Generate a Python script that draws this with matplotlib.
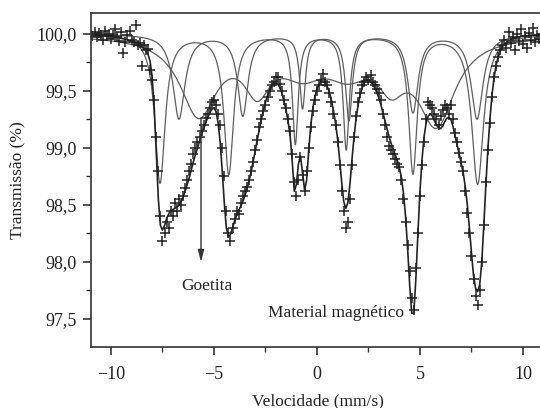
import numpy as np
import matplotlib.pyplot as plt
from matplotlib.ticker import MultipleLocator, FuncFormatter

# measured spectrum, one value per channel (0.1 mm/s steps from -10.9 to 10.8)
vel_min, vel_max = -10.9, 10.8
transmission = [
    99.98, 100.02, 99.97, 100.01, 99.99, 99.95, 100.03, 99.98, 100.00, 99.96,
    99.99, 100.04, 99.97, 99.94, 100.02, 99.83, 99.93, 99.99, 100.03, 99.95,
    99.93, 100.08, 99.90, 99.92, 99.72, 99.90, 99.86, 99.87, 99.68, 99.60,
    99.42, 99.10, 98.80, 98.40, 98.18, 98.25, 98.35, 98.30, 98.45, 98.40,
    98.52, 98.45, 98.55, 98.50, 98.58, 98.65, 98.72, 98.80, 98.86, 98.95,
    99.00, 99.05, 99.10, 99.15, 99.20, 99.26, 99.30, 99.35, 99.40, 99.42,
    99.38, 99.30, 99.20, 99.00, 98.75, 98.45, 98.25, 98.18, 98.30, 98.38,
    98.45, 98.42, 98.52, 98.58, 98.62, 98.66, 98.72, 98.80, 98.88, 98.98,
    99.07, 99.18, 99.25, 99.32, 99.38, 99.45, 99.50, 99.55, 99.58, 99.62,
    99.62, 99.56, 99.50, 99.42, 99.35, 99.25, 99.15, 98.95, 98.70, 98.58,
    98.72, 98.92, 98.76, 98.62, 98.80, 99.00, 99.18, 99.32, 99.42, 99.50,
    99.55, 99.60, 99.65, 99.58, 99.55, 99.48, 99.40, 99.30, 99.20, 99.05,
    98.85, 98.62, 98.45, 98.30, 98.35, 98.55, 98.85, 99.10, 99.28, 99.40,
    99.48, 99.55, 99.58, 99.62, 99.60, 99.64, 99.58, 99.55, 99.52, 99.48,
    99.42, 99.30, 99.20, 99.10, 99.02, 98.98, 98.95, 98.90, 98.86, 98.83,
    98.72, 98.55, 98.35, 98.15, 97.92, 97.68, 97.58, 97.95, 98.25, 98.58,
    98.85, 99.05, 99.25, 99.40, 99.38, 99.35, 99.30, 99.25, 99.20, 99.28,
    99.33, 99.38, 99.35, 99.30, 99.38, 99.25, 99.13, 99.05, 98.96, 98.88,
    98.80, 98.62, 98.43, 98.25, 98.05, 97.85, 97.70, 97.62, 97.75, 98.00,
    98.32, 98.70, 98.98, 99.22, 99.45, 99.62, 99.72, 99.80, 99.86, 99.90,
    99.95, 99.88, 100.02, 99.92, 99.97, 99.86, 100.00, 99.94, 100.04, 99.91,
    99.98, 99.88, 100.01, 99.95, 100.05, 99.93, 99.99, 99.96,
]

# total fitted curve on the same channels
fit_total = [
    100.00, 100.00, 100.00, 99.99, 99.99, 99.99, 99.99, 99.98, 99.98, 99.98,
    99.98, 99.97, 99.97, 99.97, 99.96, 99.96, 99.95, 99.95, 99.94, 99.94,
    99.93, 99.92, 99.91, 99.90, 99.89, 99.87, 99.85, 99.82, 99.76, 99.62,
    99.35, 98.95, 98.55, 98.32, 98.28, 98.32, 98.38, 98.42, 98.45, 98.46,
    98.47, 98.48, 98.50, 98.53, 98.57, 98.62, 98.68, 98.74, 98.81, 98.88,
    98.94, 99.00, 99.06, 99.12, 99.17, 99.22, 99.27, 99.31, 99.34, 99.35,
    99.32, 99.22, 99.05, 98.80, 98.52, 98.30, 98.22, 98.24, 98.30, 98.36,
    98.41, 98.45, 98.49, 98.53, 98.58, 98.64, 98.71, 98.79, 98.88, 98.97,
    99.07, 99.16, 99.25, 99.33, 99.40, 99.46, 99.51, 99.54, 99.56, 99.57,
    99.56, 99.53, 99.48, 99.41, 99.33, 99.23, 99.10, 98.88, 98.62, 98.68,
    98.86, 98.93, 98.78, 98.63, 98.72, 98.98, 99.20, 99.35, 99.45, 99.52,
    99.56, 99.58, 99.58, 99.57, 99.54, 99.49, 99.42, 99.33, 99.22, 99.08,
    98.90, 98.70, 98.53, 98.47, 98.52, 98.68, 98.90, 99.10, 99.26, 99.38,
    99.47, 99.53, 99.57, 99.59, 99.59, 99.58, 99.56, 99.53, 99.49, 99.44,
    99.38, 99.31, 99.24, 99.17, 99.10, 99.04, 98.99, 98.94, 98.89, 98.83,
    98.74, 98.60, 98.40, 98.12, 97.80, 97.55, 97.55, 97.85, 98.25, 98.62,
    98.90, 99.10, 99.22, 99.28, 99.30, 99.28, 99.24, 99.20, 99.18, 99.17,
    99.19, 99.23, 99.26, 99.27, 99.25, 99.19, 99.11, 99.03, 98.95, 98.87,
    98.78, 98.66, 98.50, 98.30, 98.08, 97.88, 97.77, 97.74, 97.80, 98.00,
    98.32, 98.68, 99.00, 99.26, 99.47, 99.62, 99.73, 99.80, 99.85, 99.89,
    99.91, 99.93, 99.94, 99.95, 99.96, 99.96, 99.97, 99.97, 99.98, 99.98,
    99.98, 99.98, 99.99, 99.99, 99.99, 99.99, 100.00, 100.00,
]
velocity = np.linspace(vel_min, vel_max, len(transmission))

# fitted subspectra: line positions (mm/s), depths (%), half widths (mm/s)
mag_pos = [-7.62, -4.28, -1.05, 1.42, 4.66, 7.80]
mag_depth = [1.30, 1.22, 0.95, 1.00, 1.21, 1.31]
mag_hwhm = [0.30, 0.28, 0.17, 0.18, 0.25, 0.35]

sx2_pos = [-6.70, -3.60, -0.70, 1.55, 4.66, 7.77]
sx2_depth = [0.74, 0.71, 0.64, 0.75, 0.68, 0.74]
sx2_hwhm = [0.35, 0.30, 0.17, 0.20, 0.30, 0.35]

goe_pos = [-5.75, -2.90, -0.70, 1.50, 3.60, 5.80]
goe_depth = [0.68, 0.40, 0.26, 0.26, 0.32, 0.75]
goe_hwhm = [1.1, 0.8, 1.3, 1.3, 0.8, 1.1]


def absorption(v, pos, depth, hwhm):
    a = np.zeros_like(v)
    for p, d, g in zip(pos, depth, hwhm):
        a += d / (1 + ((v - p) / g) ** 2)
    return a


v = np.linspace(-11.2, 11.2, 3000)
a_mag = absorption(v, mag_pos, mag_depth, mag_hwhm)
a_sx2 = absorption(v, sx2_pos, sx2_depth, sx2_hwhm)
a_goe = absorption(v, goe_pos, goe_depth, goe_hwhm)

plt.rcParams['font.family'] = ['Liberation Serif', 'DejaVu Serif']

fig = plt.figure(figsize=(5.4, 4.08), dpi=100)
ax = fig.add_axes([91 / 540, 61 / 408, 454 / 540, 334 / 408])

comp_color = '#5e5e5e'
ax.plot(v, 100 - a_mag, color=comp_color, lw=0.9)
ax.plot(v, 100 - a_sx2, color=comp_color, lw=0.9)
ax.plot(v, 100 - a_goe, color=comp_color, lw=0.9)
ax.plot(velocity, fit_total, color='#222222', lw=1.2)
ax.plot(velocity, transmission, '+', color='#222222', ms=6.5, mew=1.1)

# goethite arrow from the bottom of its broad subspectrum
x_arrow = goe_pos[0] + 0.12
goe_min = 100 - absorption(np.array([x_arrow]), goe_pos, goe_depth, goe_hwhm)[0]
ax.annotate('', xy=(x_arrow, 98.0), xytext=(x_arrow, goe_min),
            arrowprops=dict(arrowstyle='-|>,head_length=0.7,head_width=0.18',
                            color='#333333', lw=1.0, shrinkA=0, shrinkB=0))
ax.text(-5.34, 97.79, 'Goetita', fontsize=12.5, ha='center', va='center', color='#222222')
ax.text(0.9, 97.55, 'Material magnético', fontsize=12.5, ha='center', va='center',
        color='#222222')

ax.set_xlim(-10.97, 11.07)
ax.set_ylim(97.254, 100.184)
ax.xaxis.set_major_locator(MultipleLocator(5))
ax.xaxis.set_minor_locator(MultipleLocator(2.5))
ax.yaxis.set_major_locator(MultipleLocator(0.5))
ax.yaxis.set_minor_locator(MultipleLocator(0.25))
ax.yaxis.set_major_formatter(FuncFormatter(lambda y, _: f"{y:.1f}".replace('.', ',')))

ax.tick_params(which='major', direction='out', length=6, width=1.2, labelsize=13,
               colors='#333333', labelcolor='#222222')
ax.tick_params(which='minor', direction='out', length=3.5, width=1.0, colors='#333333')
ax.tick_params(axis='y', pad=4)
ax.tick_params(axis='x', pad=8)
for side in ['left', 'bottom', 'top']:
    ax.spines[side].set_linewidth(1.2)
    ax.spines[side].set_color('#333333')
ax.spines['right'].set_visible(False)

ax.set_xlabel('Velocidade (mm/s)', fontsize=12.5, color='#222222', labelpad=7)
ax.set_ylabel('Transmissão (%)', fontsize=12.5, color='#222222', labelpad=8)

fig.savefig('out.png', dpi=100)
